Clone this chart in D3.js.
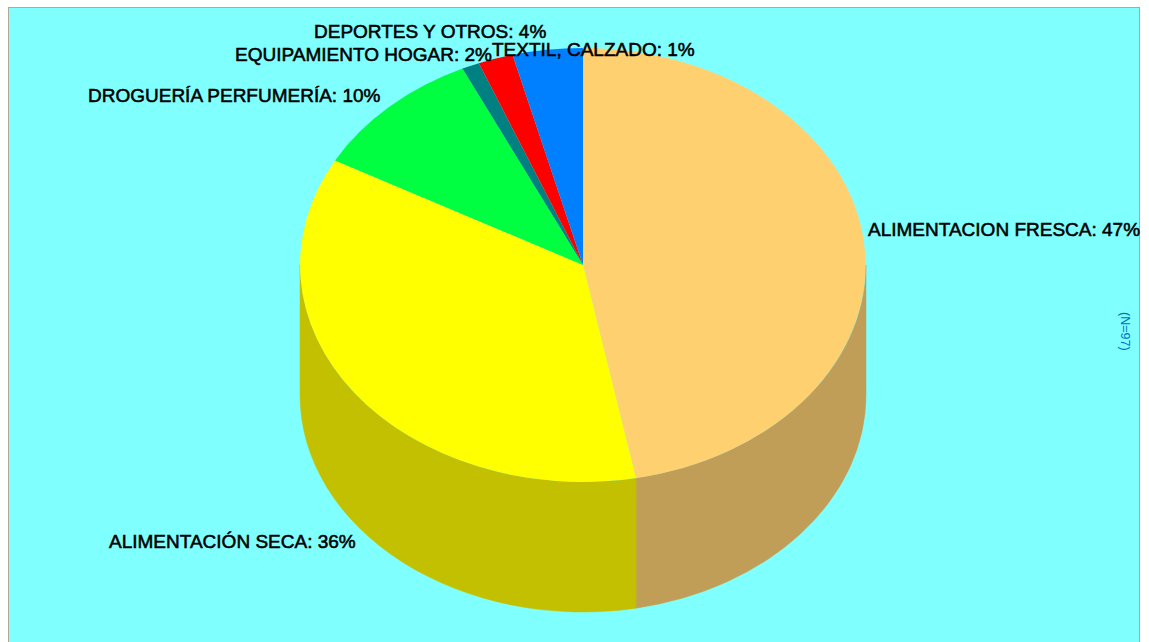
<!DOCTYPE html>
<html>
<head>
<meta charset="utf-8">
<style>
html, body { margin: 0; padding: 0; background: #fff; }
svg { display: block; }
text { font-family: "Liberation Sans", Arial, sans-serif; }
</style>
<script src="https://cdn.jsdelivr.net/npm/d3@7"></script>
</head>
<body>
<svg id="chart" width="1149" height="642"></svg>
<script>
// Shares of spending by category, clockwise from twelve o'clock
const categories = ["ALIMENTACION FRESCA", "ALIMENTACIÓN SECA", "DROGUERÍA PERFUMERÍA",
  "TEXTIL, CALZADO", "EQUIPAMIENTO HOGAR", "DEPORTES Y OTROS"];
const shares = [47, 36, 10, 1, 2, 4];
const topColors = ["#FFD070", "#FFFF00", "#00FF40", "#008080", "#FF0000", "#0080FF"];
const sideColors = ["#C09E58", "#C2C000", "#00C030", "#006060", "#C00000", "#0060C0"];
const sampleNote = "(N=97)";

const W = 1149, H = 642;
const cx = 583, cy = 265, rx = 283, ry = 217, depth = 130;
const tau = Math.PI * 2;

// Text anchors for each category label, in page pixels (left edge, baseline)
const labelAnchors = [[868, 235.5], [109, 547.5], [88, 101.5], [492, 55.5], [235, 60.5], [314, 37.5]];

const svg = d3.select("#chart");

// Panel with the thin frame along the top and both sides
svg.append("rect").attr("x", 8).attr("y", 7).attr("width", 1132).attr("height", H - 7).attr("fill", "#B0A898");
svg.append("rect").attr("x", 9).attr("y", 8).attr("width", 1130).attr("height", H - 8).attr("fill", "#80FFFF");

const pie = d3.pie().sort(null).value(d => d)(shares);

// Angle (clockwise from top) to page position on the tilted disc
const sx = d3.scaleLinear().domain([-1, 1]).range([cx - rx, cx + rx]);
const sy = d3.scaleLinear().domain([-1, 1]).range([cy - ry, cy + ry]);
const px = a => sx(Math.sin(a));
const py = a => sy(-Math.cos(a));

// Outer wall: only the near half of the rim (90 to 270 degrees) is visible
const wall = (a0, a1) => {
  const ax = px(a0), ay = py(a0), bx = px(a1), by = py(a1);
  return `M${ax},${ay}A${rx},${ry} 0 0 1 ${bx},${by}L${bx},${by + depth}` +
         `A${rx},${ry} 0 0 0 ${ax},${ay + depth}Z`;
};

svg.append("g").selectAll("path")
  .data(pie.filter(d => d.endAngle > tau / 4 && d.startAngle < tau * 3 / 4))
  .join("path")
  .attr("d", d => wall(Math.max(d.startAngle, tau / 4), Math.min(d.endAngle, tau * 3 / 4)))
  .attr("fill", d => sideColors[d.index])
  .attr("stroke", d => sideColors[d.index])
  .attr("stroke-width", 0.5);

// Top face: a unit-radius arc squashed into the ellipse
const arc = d3.arc().innerRadius(0).outerRadius(1);
svg.append("g")
  .attr("transform", `translate(${cx},${cy}) scale(${rx},${ry})`)
  .selectAll("path")
  .data(pie)
  .join("path")
  .attr("d", arc)
  .attr("fill", d => topColors[d.index]);

// Category labels
svg.append("g").selectAll("text")
  .data(categories)
  .join("text")
  .attr("x", (d, i) => labelAnchors[i][0])
  .attr("y", (d, i) => labelAnchors[i][1])
  .attr("font-size", 19)
  .attr("fill", "#000")
  .attr("stroke", "#000")
  .attr("stroke-width", 0.55)
  .text((d, i) => `${d}: ${shares[i]}%`);

// Sample size, running down the right edge
svg.append("text")
  .attr("transform", "translate(1121,312) rotate(90)")
  .attr("font-size", 12.5)
  .attr("fill", "#0070C0")
  .text(sampleNote);
</script>
</body>
</html>
